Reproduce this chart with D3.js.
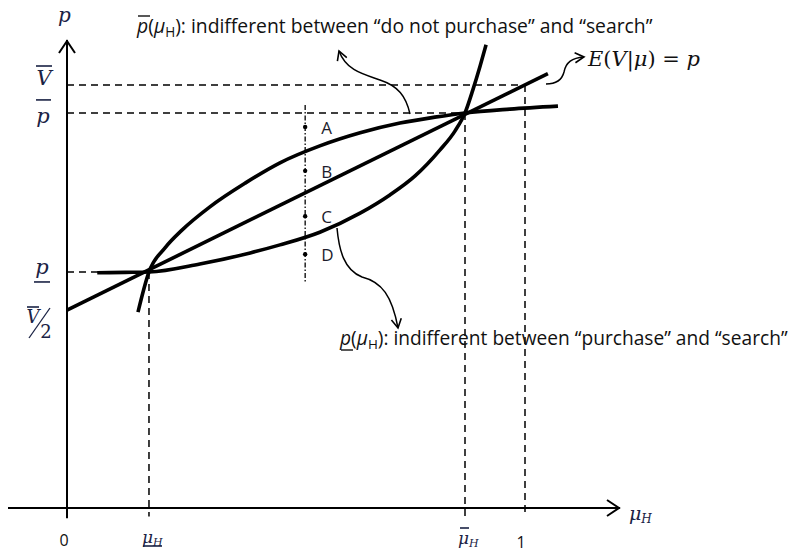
<!DOCTYPE html>
<html><head><meta charset="utf-8">
<script src="https://cdn.jsdelivr.net/npm/d3@7"></script>
<style>
html,body{margin:0;padding:0;background:#fff;}
svg{display:block;}
</style></head>
<body>
<script>
// ---- data (μ_H on x, p on y; arbitrary units with V̄ = 1, μ_H = 1 at the "1" tick) ----
const muLow = 0.179;      // μ_H (underlined)
const muHigh = 0.869;     // μ̄_H
const vBar = 1.0;         // V̄
const pBar = 0.934;       // p̄
const pLow = 0.558;       // p (underlined)
const vHalf = 0.468;      // V̄/2 (line intercept)

// p̄(μ_H) curve: indifferent between "do not purchase" and "search"
const upperMu = [0.155, 0.179, 0.214, 0.251, 0.312, 0.389, 0.465, 0.552, 0.640, 0.727, 0.803, 0.869, 0.967, 1.072];
const upperP  = [0.463, 0.558, 0.615, 0.657, 0.712, 0.768, 0.816, 0.856, 0.887, 0.910, 0.924, 0.934, 0.943, 0.950];
// p(μ_H) curve: indifferent between "purchase" and "search"
const lowerMu = [0.066, 0.127, 0.179, 0.290, 0.400, 0.465, 0.552, 0.640, 0.705, 0.760, 0.814, 0.847, 0.869, 0.886, 0.902, 0.915];
const lowerP  = [0.556, 0.557, 0.558, 0.577, 0.603, 0.622, 0.652, 0.697, 0.740, 0.785, 0.846, 0.891, 0.934, 0.988, 1.045, 1.095];
// E(V|μ) = p line
const lineMu = [0, 1.05];
const lineP  = [0.468, 1.027];
// Points A–D on the vertical test line
const pointNames = ["A", "B", "C", "D"];
const pointMu = 0.520;
const pointP = [0.901, 0.797, 0.690, 0.600];
const testLineP = [0.953, 0.532];
// x tick labels
const xTickVals = [0, muLow, muHigh, 1];

const W = 792, H = 552;
const svg = d3.select("body").append("svg").attr("width", W).attr("height", H);
const x = d3.scaleLinear().domain([0, 1]).range([67, 525]);
const y = d3.scaleLinear().domain([0, 1]).range([508, 85]);

const defs = svg.append("defs");
defs.append("marker").attr("id", "chev").attr("viewBox", "0 0 12 12")
  .attr("refX", 10).attr("refY", 6).attr("markerWidth", 12).attr("markerHeight", 12)
  .attr("markerUnits", "userSpaceOnUse").attr("orient", "auto")
  .append("path").attr("d", "M1,1 L10,6 L1,11").attr("fill", "none")
  .attr("stroke", "#000").attr("stroke-width", 1.6);

const line = d3.line().x(d => x(d[0])).y(d => y(d[1]));
const curve = d3.line().x(d => x(d[0])).y(d => y(d[1])).curve(d3.curveMonotoneX);

// ---- dashed reference lines ----
const dash = svg.append("g").attr("stroke", "#000").attr("stroke-width", 1.5)
  .attr("stroke-dasharray", "7,5").attr("fill", "none");
dash.append("path").attr("d", line([[0, vBar], [1.003, vBar]]));
dash.append("path").attr("d", line([[0, pBar], [muHigh, pBar]]));
dash.append("path").attr("d", line([[0, pLow], [muLow, pLow]]));
dash.append("path").attr("d", line([[muLow, pLow], [muLow, -0.02]]));
dash.append("path").attr("d", line([[muHigh, pBar], [muHigh, -0.02]]));
dash.append("path").attr("d", line([[1, vBar], [1, -0.02]]));
dash.append("path").attr("d", line([[pointMu, testLineP[0]], [pointMu, testLineP[1]]]))
  .attr("stroke-dasharray", "5,2,1.5,2").attr("stroke-width", 1.3);

// ---- axes ----
const ax = svg.append("g").attr("stroke", "#000").attr("fill", "none").attr("stroke-width", 2);
ax.append("path").attr("d", `M${x(0)},${y(-0.024)} L${x(0)},${40}`);
ax.append("path").attr("d", `M${x(0) - 8},${53} L${x(0)},${41} L${x(0) + 8},${53}`);
ax.append("path").attr("d", `M8,${y(0)} L620,${y(0)}`);
ax.append("path").attr("d", `M607,${y(0) - 8} L619,${y(0)} L607,${y(0) + 8}`);

// ---- main curves ----
const mains = svg.append("g").attr("stroke", "#000").attr("fill", "none")
  .attr("stroke-width", 3.6).attr("stroke-linecap", "butt");
mains.append("path").attr("d", line(lineMu.map((m, i) => [m, lineP[i]])));
mains.append("path").attr("d", curve(upperMu.map((m, i) => [m, upperP[i]])));
mains.append("path").attr("d", curve(lowerMu.map((m, i) => [m, lowerP[i]])));

// ---- points A-D ----
svg.append("g").selectAll("circle").data(pointP).join("circle")
  .attr("cx", x(pointMu)).attr("cy", d => y(d)).attr("r", 2.2).attr("fill", "#000");
svg.append("g").selectAll("text").data(pointNames).join("text")
  .attr("x", x(pointMu) + 16).attr("y", (d, i) => y(pointP[i]) + 7)
  .attr("font-family", "'Open Sans', Lato, sans-serif").attr("font-size", 17)
  .attr("fill", "#1c1c2c").text(d => d);

// ---- annotation arrows ----
const ann = svg.append("g").attr("stroke", "#000").attr("fill", "none").attr("stroke-width", 1.5);
ann.append("path").attr("d", "M410,114 C406,96 398,86 380,80 C362,74 346,70 339,51").attr("marker-end", "url(#chev)");
ann.append("path").attr("d", "M337,228 C339,250 344,270 362,277 C382,282 392,296 398,328").attr("marker-end", "url(#chev)");
ann.append("path").attr("d", "M546,84 C556,84 562,80 564,72 C566,62 572,58 584,57").attr("marker-end", "url(#chev)");

// ---- text ----
const sans = "'Open Sans', Lato, sans-serif";
const serif = "'DejaVu Serif', 'Liberation Serif', serif";
const labCol = "#1a2244";

function fit(t, target, base) {
  const w = t.node().getComputedTextLength();
  t.attr("font-size", base * target / w);
}

// top label
const t1 = svg.append("text").attr("x", 137).attr("y", 33).attr("font-family", sans)
  .attr("font-size", 17).attr("fill", "#111");
t1.append("tspan").attr("font-style", "italic").text("p");
t1.append("tspan").text("(");
t1.append("tspan").attr("font-style", "italic").text("μ");
t1.append("tspan").attr("font-size", "0.7em").attr("dy", 4).text("H");
t1.append("tspan").attr("dy", -4).text("): indifferent between “do not purchase” and “search”");
fit(t1, 516, 17);
svg.append("line").attr("x1", 138).attr("x2", 150).attr("y1", 16).attr("y2", 16).attr("stroke", "#111").attr("stroke-width", 1.4);

// bottom label
const t2 = svg.append("text").attr("x", 340).attr("y", 345).attr("font-family", sans)
  .attr("font-size", 17).attr("fill", "#111");
t2.append("tspan").attr("font-style", "italic").text("p");
t2.append("tspan").text("(");
t2.append("tspan").attr("font-style", "italic").text("μ");
t2.append("tspan").attr("font-size", "0.7em").attr("dy", 4).text("H");
t2.append("tspan").attr("dy", -4).text("): indifferent between “purchase” and “search”");
fit(t2, 448, 17);
svg.append("line").attr("x1", 341).attr("x2", 353).attr("y1", 350).attr("y2", 350).attr("stroke", "#111").attr("stroke-width", 1.4);

// E(V|μ) = p
const t3 = svg.append("text").attr("x", 588).attr("y", 66).attr("font-family", serif)
  .attr("font-size", 19).attr("fill", "#111");
t3.append("tspan").attr("font-style", "italic").text("E");
t3.append("tspan").text("(");
t3.append("tspan").attr("font-style", "italic").text("V");
t3.append("tspan").text("|");
t3.append("tspan").attr("font-style", "italic").text("μ");
t3.append("tspan").text(") = ");
t3.append("tspan").attr("font-style", "italic").text("p");
fit(t3, 112, 19);

// axis titles
svg.append("text").attr("x", 58).attr("y", 22).attr("font-family", serif).attr("font-style", "italic")
  .attr("font-size", 20).attr("fill", labCol).text("p");
const xt = svg.append("text").attr("x", 629).attr("y", 520).attr("font-family", serif)
  .attr("font-style", "italic").attr("font-size", 19).attr("fill", labCol);
xt.append("tspan").text("μ");
xt.append("tspan").attr("font-size", 12).attr("dy", 3).text("H");

// y labels
const yl = svg.append("g").attr("font-family", serif).attr("font-style", "italic")
  .attr("font-size", 21).attr("fill", labCol).attr("text-anchor", "middle");
yl.append("text").attr("x", 44).attr("y", y(vBar)).text("V");
yl.append("text").attr("x", 43).attr("y", y(pBar) + 10).text("p");
yl.append("text").attr("x", 42).attr("y", y(pLow) + 2).text("p");
yl.append("text").attr("x", 33).attr("y", 323).attr("font-size", 18).text("V");
yl.append("text").attr("x", 46).attr("y", 338).attr("font-style", "normal").attr("font-size", 18).text("2");
const bars = svg.append("g").attr("stroke", labCol).attr("stroke-width", 1.6);
bars.append("line").attr("x1", 36).attr("x2", 52).attr("y1", y(vBar) - 19).attr("y2", y(vBar) - 19);
bars.append("line").attr("x1", 36).attr("x2", 51).attr("y1", y(pBar) - 13).attr("y2", y(pBar) - 13);
bars.append("line").attr("x1", 34).attr("x2", 50).attr("y1", y(pLow) + 10).attr("y2", y(pLow) + 10);
bars.append("line").attr("x1", 27).attr("x2", 39).attr("y1", 307).attr("y2", 307);
bars.append("line").attr("x1", 29).attr("x2", 50).attr("y1", 338).attr("y2", 308).attr("stroke-width", 1.3);

// x tick labels
const xl = svg.append("g").attr("fill", labCol);
xl.append("text").attr("x", 64).attr("y", 546).attr("font-family", sans)
  .attr("font-size", 16).attr("text-anchor", "middle").attr("fill", "#111").text("0");
xl.append("text").attr("x", x(xTickVals[3]) - 4).attr("y", 548).attr("font-family", sans)
  .attr("font-size", 16).attr("text-anchor", "middle").attr("fill", "#111").text("1");
function muLabel(cx, yb) {
  const t = xl.append("text").attr("x", cx - 7).attr("y", yb).attr("font-family", serif)
    .attr("font-style", "italic").attr("font-size", 17);
  t.append("tspan").text("μ");
  t.append("tspan").attr("font-size", 11).attr("dy", 3).text("H");
}
muLabel(x(xTickVals[1]), 543);
muLabel(x(xTickVals[2]), 544);
bars.append("line").attr("x1", x(muLow) - 6).attr("x2", x(muLow) + 13).attr("y1", 546).attr("y2", 546);
bars.append("line").attr("x1", x(muHigh) - 5).attr("x2", x(muHigh) + 4).attr("y1", 528).attr("y2", 528);
</script>
</body></html>
